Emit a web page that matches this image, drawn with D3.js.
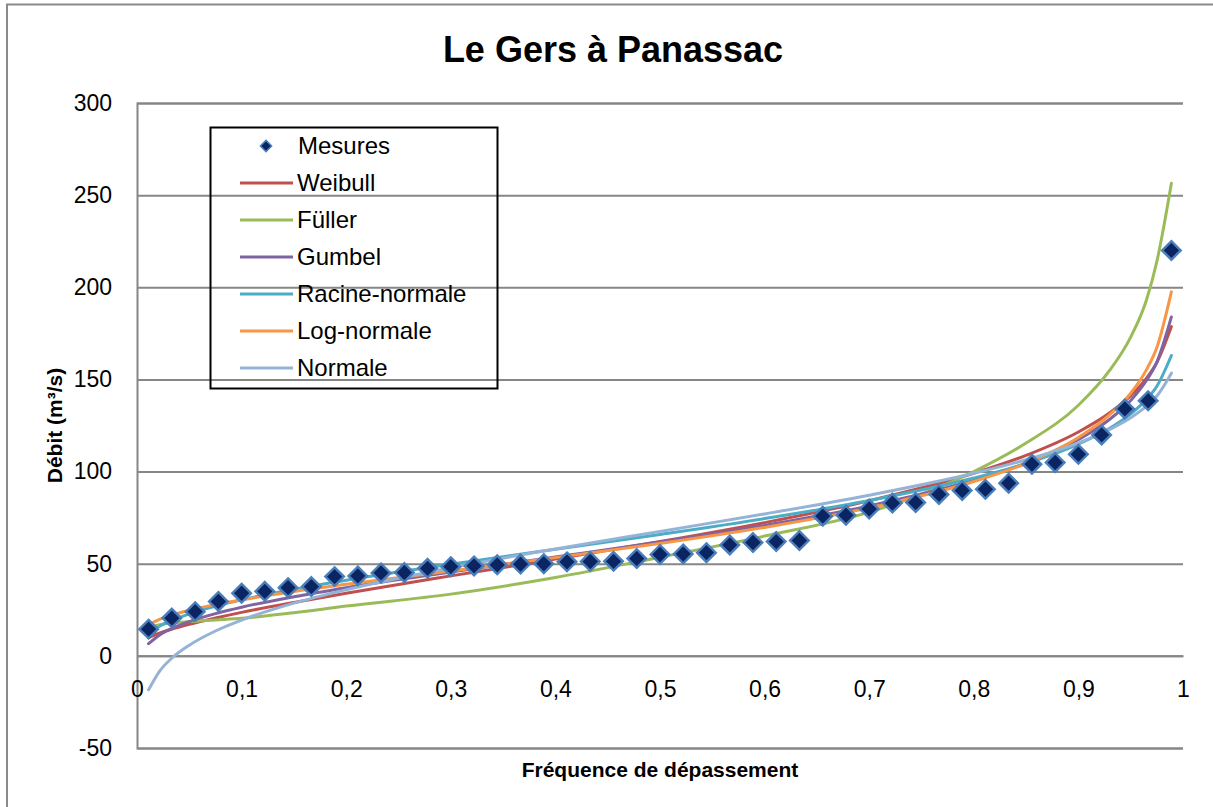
<!DOCTYPE html>
<html><head><meta charset="utf-8">
<script src="https://cdn.jsdelivr.net/npm/d3@7"></script>
<style>body{margin:0;background:#fff;} svg{display:block;font-family:Arial,"Liberation Sans",sans-serif;}</style>
</head><body>
<svg id="c" width="1213" height="807"></svg>
<script>
const chartTitle = "Le Gers à Panassac";
const xTitle = "Fréquence de dépassement";
const yTitle = "Débit (m³/s)";
const xTicks = [0, 0.1, 0.2, 0.3, 0.4, 0.5, 0.6, 0.7, 0.8, 0.9, 1];
const yTicks = [-50, 0, 50, 100, 150, 200, 250, 300];

const measureFreq = [0.0111,0.0333,0.0556,0.0778,0.1000,0.1222,0.1444,0.1667,0.1889,0.2111,0.2333,0.2556,0.2778,0.3000,0.3222,0.3444,0.3667,0.3889,0.4111,0.4333,0.4556,0.4778,0.5000,0.5222,0.5444,0.5667,0.5889,0.6111,0.6333,0.6556,0.6778,0.7000,0.7222,0.7444,0.7667,0.7889,0.8111,0.8333,0.8556,0.8778,0.9000,0.9222,0.9444,0.9667,0.9889];
const measureValues = [14.5,20.5,24,29.5,34,35,37,37.6,43,43.4,45,45.2,47.5,48.4,48.8,49.4,49.8,50,51,51.2,51.3,52.8,55,55.3,56,60.2,61.5,62,62.6,75.8,76.3,79.7,82.9,83.2,87.6,89.7,90.4,93.7,104,104.9,109.4,119.9,134,138.4,220];

const curveFreq = [0.0111,0.022,0.033,0.05,0.075,0.1,0.15,0.2,0.3,0.4,0.5,0.6,0.7,0.8,0.85,0.9,0.93,0.95,0.965,0.975,0.9889];
const weibull   = [9.9,12.4,14.4,17.1,20.5,23.6,29.0,34.0,43.4,52.5,62.0,72.3,84.2,99.1,108.8,121.5,131.9,141.2,150.6,159.2,178.7];
const fuller    = [15.5,16.9,17.8,18.6,19.5,20.4,23.4,27.0,33.5,42.5,53.5,65,78,100,115.5,136,155,173,193,214,256.5];
const gumbel    = [6.6,11.5,14.8,18.6,22.9,26.4,32.1,37.0,45.5,53.6,61.8,70.8,81.4,95.3,104.6,117.4,128.4,138.6,149.4,159.4,183.9];
const racineNormale = [12.0,16.2,19.2,22.8,26.9,30.4,36.1,41.0,49.7,57.8,65.9,74.5,84.3,96.5,104.4,114.9,123.5,131.3,139.1,146.3,163.0];
const logNormale = [16.8,19.9,22.1,24.7,27.8,30.4,34.9,38.8,46.1,53.3,61.0,69.7,80.3,94.6,104.5,118.5,130.9,142.5,155.2,167.3,197.5];
const normale   = [-18.4,-8.0,-1.4,5.8,13.5,19.4,28.6,35.9,47.8,58.0,67.5,77.0,87.2,99.1,106.4,115.6,122.9,129.2,135.5,141.0,153.4];

const seriesNames = ["Weibull","Füller","Gumbel","Racine-normale","Log-normale","Normale"];
const seriesValues = [weibull, fuller, gumbel, racineNormale, logNormale, normale];
const seriesColors = ["#C0504D","#9BBB59","#8064A2","#4BACC6","#F79646","#95B3D7"];
const measureName = "Mesures";

const svg = d3.select("#c");
const W = 1213, H = 807;
const plot = {left: 137, right: 1183, top: 103, bottom: 748};
const x = d3.scaleLinear().domain([0, 1]).range([plot.left, plot.right]);
const y = d3.scaleLinear().domain([-50, 300]).range([plot.bottom, plot.top]);
const gridColor = "#868686";
const fontFam = "Arial, 'Liberation Sans', sans-serif";

svg.append("rect").attr("width", W).attr("height", H).attr("fill", "#fff");
// outer chart frame
svg.append("rect").attr("x", 7).attr("y", 4.5).attr("width", 1400).attr("height", 1000)
  .attr("fill", "none").attr("stroke", "#8a8a8a").attr("stroke-width", 2);

// title
svg.append("text").attr("x", 613).attr("y", 62).attr("text-anchor", "middle")
  .attr("font-size", 36).attr("font-weight", "bold").attr("fill", "#000").text(chartTitle);

// y axis with gridlines
const yAxis = d3.axisLeft(y).tickValues(yTicks).tickSize(-(plot.right - plot.left)).tickPadding(25).tickFormat(d => String(d));
const gy = svg.append("g").attr("transform", `translate(${plot.left},0)`).call(yAxis);
gy.select(".domain").attr("stroke", gridColor).attr("stroke-width", 2);
gy.selectAll(".tick line").attr("stroke", gridColor).attr("stroke-width", 2);
gy.selectAll(".tick text").attr("font-size", 23).attr("fill", "#000").attr("font-family", fontFam);

// x axis at y=0
const xAxis = d3.axisBottom(x).tickValues(xTicks).tickSize(0).tickPadding(25).tickFormat(d => String(d).replace(".", ","));
const gx = svg.append("g").attr("transform", `translate(0,${y(0)})`).call(xAxis);
gx.select(".domain").attr("stroke", gridColor).attr("stroke-width", 2);
gx.selectAll(".tick text").attr("font-size", 23).attr("fill", "#000").attr("font-family", fontFam);

// axis titles
svg.append("text").attr("x", (plot.left + plot.right) / 2).attr("y", 777).attr("text-anchor", "middle")
  .attr("font-size", 21).attr("font-weight", "bold").text(xTitle);
svg.append("text").attr("transform", `translate(62,${(plot.top + plot.bottom) / 2}) rotate(-90)`).attr("text-anchor", "middle")
  .attr("font-size", 21).attr("font-weight", "bold").text(yTitle);

// curves
const line = d3.line().x(d => x(d[0])).y(d => y(d[1])).curve(d3.curveMonotoneX);
seriesValues.forEach((vals, i) => {
  svg.append("path").datum(curveFreq.map((f, k) => [f, vals[k]]))
    .attr("d", line).attr("fill", "none").attr("stroke", seriesColors[i])
    .attr("stroke-width", 3).attr("stroke-linejoin", "round").attr("stroke-linecap", "round");
});

// measures
const diamond = d3.symbol().type(d3.symbolDiamond2).size(220);
svg.append("g").selectAll("path").data(measureFreq.map((f, k) => [f, measureValues[k]]))
  .join("path").attr("d", diamond)
  .attr("transform", d => `translate(${x(d[0])},${y(d[1])})`)
  .attr("fill", "#0B2462").attr("stroke", "#4A7EBB").attr("stroke-width", 2.4);

// legend
const lg = svg.append("g");
lg.append("rect").attr("x", 210.5).attr("y", 127.5).attr("width", 287).attr("height", 261)
  .attr("fill", "none").attr("stroke", "#000").attr("stroke-width", 2);
const rowY = k => 146 + k * 37;
lg.append("path").attr("d", d3.symbol().type(d3.symbolDiamond2).size(80))
  .attr("transform", `translate(266,${rowY(0)})`).attr("fill", "#0B2462").attr("stroke", "#4A7EBB").attr("stroke-width", 1.5);
lg.append("text").attr("x", 298).attr("y", rowY(0) + 8).attr("font-size", 24).text(measureName);
seriesNames.forEach((n, i) => {
  const yy = rowY(i + 1);
  lg.append("line").attr("x1", 240).attr("x2", 293).attr("y1", yy).attr("y2", yy)
    .attr("stroke", seriesColors[i]).attr("stroke-width", 3);
  lg.append("text").attr("x", 297).attr("y", yy + 8).attr("font-size", 24).text(n);
});
</script>
</body></html>
